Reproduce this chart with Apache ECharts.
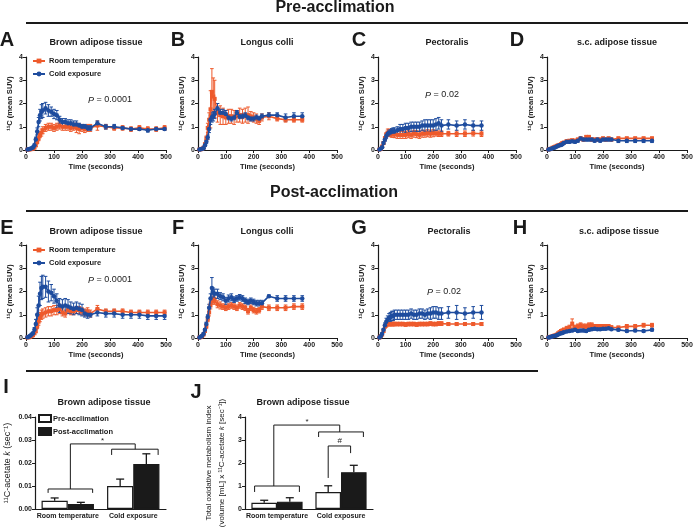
<!DOCTYPE html>
<html>
<head>
<meta charset="utf-8">
<script src="https://cdn.jsdelivr.net/npm/echarts@6/dist/echarts.min.js"></script>
<style>
  html, body { margin: 0; padding: 0; background: #fff; }
  #chart { width: 693px; height: 528px; }
</style>
</head>
<body>
<div id="chart"></div>
<script>
// frame mid-times (seconds)
const timeLong = [5,10,15,20,25,30,35,40,45,50,55,60,70,80,90,100,110,120,130,140,150,160,170,180,190,200,210,220,230,255,285,315,345,375,405,435,465,495];
const timeShort = [5,10,15,20,25,30,35,40,45,50,55,60,70,80,90,100,110,120,130,140,150,160,170,180,190,200,210,220,230,255,285,315,345,375];

// A - pre, brown adipose tissue
const aRT      = [0.02,0.02,0.03,0.04,0.06,0.1,0.2,0.35,0.5,0.65,0.75,0.85,0.95,1.0,1.0,0.95,1.0,1.05,1.0,1.0,1.0,0.95,1.0,0.95,0.9,0.95,0.9,0.95,0.95,1.05,1.0,0.95,0.95,0.9,0.95,0.9,0.9,0.95];
const aRTErr   = [0.01,0.01,0.01,0.02,0.02,0.03,0.05,0.08,0.1,0.12,0.15,0.15,0.15,0.15,0.15,0.15,0.15,0.15,0.15,0.15,0.15,0.15,0.15,0.2,0.2,0.15,0.15,0.15,0.15,0.2,0.1,0.1,0.1,0.1,0.1,0.1,0.1,0.1];
const aCold    = [0.02,0.03,0.05,0.08,0.12,0.2,0.45,0.8,1.2,1.5,1.65,1.7,1.8,1.7,1.65,1.55,1.5,1.3,1.2,1.2,1.15,1.15,1.1,1.1,1.05,1.0,1.0,0.95,0.95,1.15,1.0,1.0,0.95,0.9,0.9,0.85,0.9,0.9];
const aColdErr = [0.01,0.01,0.02,0.02,0.03,0.05,0.1,0.15,0.2,0.25,0.3,0.3,0.25,0.25,0.2,0.2,0.2,0.15,0.15,0.15,0.15,0.15,0.15,0.15,0.1,0.1,0.1,0.1,0.1,0.1,0.1,0.1,0.05,0.05,0.05,0.08,0.05,0.05];

// B - pre, longus colli
const bRT      = [0.02,0.03,0.05,0.1,0.25,0.5,0.95,1.3,1.75,2.5,2.3,2.2,1.6,1.5,1.45,1.4,1.45,1.45,1.4,1.45,1.5,1.45,1.5,1.5,1.45,1.4,1.35,1.25,1.4,1.45,1.35,1.3,1.3,1.3];
const bRTErr   = [0.01,0.01,0.02,0.03,0.05,0.1,0.2,0.3,0.8,1.0,0.8,0.8,0.4,0.4,0.35,0.3,0.3,0.3,0.3,0.25,0.3,0.3,0.3,0.35,0.2,0.2,0.2,0.15,0.15,0.15,0.1,0.1,0.1,0.1];
const bCold    = [0.02,0.03,0.05,0.08,0.2,0.35,0.55,0.9,1.3,1.4,1.45,1.55,1.8,1.6,1.6,1.55,1.4,1.35,1.4,1.6,1.45,1.45,1.5,1.4,1.35,1.35,1.4,1.35,1.45,1.5,1.5,1.4,1.45,1.45];
const bColdErr = [0.01,0.01,0.02,0.02,0.05,0.08,0.1,0.15,0.2,0.2,0.2,0.2,0.2,0.15,0.15,0.15,0.1,0.1,0.1,0.1,0.1,0.1,0.1,0.1,0.1,0.1,0.1,0.1,0.1,0.1,0.1,0.15,0.15,0.15];

// C - pre, pectoralis
const cRT      = [0.02,0.05,0.15,0.3,0.5,0.65,0.75,0.75,0.72,0.7,0.7,0.68,0.65,0.65,0.65,0.65,0.68,0.65,0.7,0.68,0.65,0.7,0.7,0.72,0.7,0.72,0.72,0.7,0.7,0.7,0.7,0.7,0.72,0.7];
const cRTErr   = [0.01,0.02,0.03,0.05,0.08,0.1,0.15,0.15,0.15,0.15,0.15,0.15,0.15,0.15,0.15,0.15,0.15,0.15,0.15,0.15,0.15,0.15,0.15,0.15,0.15,0.15,0.12,0.12,0.12,0.1,0.12,0.12,0.12,0.12];
const cCold    = [0.02,0.05,0.12,0.3,0.45,0.6,0.7,0.75,0.75,0.8,0.8,0.8,0.85,0.9,0.9,0.95,0.95,1.0,1.0,1.0,1.0,1.05,1.05,1.05,1.05,1.05,1.1,1.15,1.05,1.1,1.05,1.1,1.05,1.05];
const cColdErr = [0.01,0.02,0.03,0.05,0.08,0.1,0.1,0.1,0.12,0.12,0.15,0.15,0.15,0.2,0.2,0.2,0.2,0.2,0.2,0.2,0.2,0.2,0.25,0.25,0.25,0.25,0.25,0.25,0.25,0.2,0.2,0.2,0.2,0.2];

// D - pre, s.c. adipose tissue
const dRT      = [0.02,0.04,0.06,0.1,0.12,0.15,0.18,0.2,0.22,0.25,0.3,0.32,0.38,0.4,0.42,0.4,0.45,0.5,0.45,0.55,0.55,0.45,0.45,0.45,0.45,0.5,0.45,0.5,0.45,0.5,0.5,0.5,0.5,0.5];
const dRTErr   = [0.01,0.01,0.02,0.02,0.02,0.03,0.03,0.03,0.04,0.04,0.05,0.05,0.05,0.05,0.05,0.06,0.06,0.06,0.06,0.08,0.08,0.06,0.06,0.06,0.06,0.06,0.06,0.06,0.06,0.06,0.06,0.06,0.06,0.06];
const dCold    = [0.02,0.03,0.05,0.08,0.1,0.12,0.15,0.18,0.2,0.22,0.25,0.3,0.35,0.35,0.38,0.35,0.4,0.5,0.45,0.45,0.45,0.45,0.4,0.45,0.4,0.45,0.45,0.45,0.45,0.4,0.4,0.4,0.4,0.4];
const dColdErr = [0.01,0.01,0.02,0.02,0.02,0.03,0.03,0.03,0.04,0.04,0.05,0.05,0.06,0.06,0.06,0.06,0.06,0.06,0.06,0.06,0.06,0.06,0.06,0.06,0.06,0.06,0.06,0.06,0.06,0.08,0.08,0.08,0.08,0.08];

// E - post, brown adipose tissue
const eRT      = [0.02,0.03,0.05,0.08,0.12,0.2,0.3,0.5,0.7,0.9,1.0,1.05,1.1,1.15,1.15,1.2,1.2,1.25,1.1,1.05,1.2,1.15,1.15,1.2,1.2,1.15,1.1,1.15,1.05,1.25,1.15,1.15,1.15,1.1,1.1,1.1,1.1,1.1];
const eRTErr   = [0.01,0.01,0.02,0.02,0.03,0.05,0.08,0.1,0.15,0.2,0.2,0.2,0.2,0.2,0.2,0.2,0.2,0.2,0.15,0.15,0.15,0.15,0.15,0.15,0.15,0.15,0.15,0.15,0.15,0.15,0.1,0.1,0.1,0.1,0.1,0.1,0.1,0.1];
const eCold    = [0.03,0.05,0.1,0.15,0.2,0.35,0.6,1.0,1.4,1.9,2.15,2.2,2.2,2.0,1.95,1.8,1.6,1.4,1.35,1.4,1.35,1.3,1.25,1.3,1.25,1.2,1.05,1.0,1.0,1.1,1.05,1.05,1.0,1.0,1.0,0.95,0.95,0.95];
const eColdErr = [0.01,0.02,0.03,0.05,0.05,0.1,0.2,0.3,0.4,0.5,0.5,0.5,0.45,0.45,0.35,0.3,0.3,0.3,0.3,0.3,0.3,0.25,0.25,0.25,0.25,0.25,0.15,0.15,0.1,0.15,0.15,0.15,0.15,0.15,0.15,0.15,0.15,0.15];

// F - post, longus colli
const fRT      = [0.02,0.04,0.08,0.15,0.3,0.5,0.8,1.1,1.4,1.6,1.65,1.6,1.45,1.4,1.35,1.3,1.35,1.4,1.35,1.3,1.4,1.35,1.3,1.15,1.3,1.2,1.15,1.2,1.35,1.3,1.3,1.3,1.35,1.35];
const fRTErr   = [0.01,0.01,0.02,0.03,0.05,0.08,0.1,0.15,0.15,0.15,0.15,0.15,0.15,0.15,0.12,0.12,0.12,0.12,0.12,0.12,0.12,0.12,0.12,0.12,0.12,0.12,0.12,0.12,0.12,0.12,0.12,0.12,0.12,0.12];
const fCold    = [0.02,0.05,0.1,0.18,0.35,0.6,0.9,1.3,1.7,2.15,1.95,1.9,1.9,1.8,1.75,1.6,1.7,1.75,1.65,1.7,1.75,1.7,1.6,1.55,1.6,1.55,1.5,1.5,1.5,1.8,1.7,1.7,1.7,1.7];
const fColdErr = [0.01,0.01,0.02,0.03,0.05,0.08,0.1,0.15,0.2,0.45,0.2,0.2,0.2,0.15,0.15,0.15,0.15,0.15,0.12,0.12,0.12,0.12,0.12,0.12,0.12,0.12,0.12,0.12,0.12,0.05,0.12,0.12,0.12,0.12];

// G - post, pectoralis
const gRT      = [0.02,0.08,0.15,0.3,0.5,0.55,0.6,0.6,0.6,0.6,0.6,0.6,0.6,0.6,0.6,0.58,0.6,0.6,0.6,0.58,0.6,0.6,0.6,0.6,0.62,0.6,0.6,0.62,0.62,0.6,0.6,0.6,0.6,0.6];
const gRTErr   = [0.01,0.02,0.03,0.05,0.08,0.08,0.08,0.08,0.08,0.08,0.08,0.08,0.08,0.08,0.08,0.08,0.08,0.08,0.08,0.08,0.08,0.08,0.08,0.08,0.08,0.08,0.08,0.08,0.08,0.06,0.06,0.06,0.06,0.06];
const gCold    = [0.02,0.08,0.18,0.35,0.55,0.7,0.8,0.85,0.9,0.95,0.95,1.0,1.0,1.0,1.0,1.0,1.0,1.05,1.0,1.0,1.05,1.05,1.0,1.05,1.05,1.1,1.1,1.05,1.05,1.1,1.1,1.05,1.1,1.1];
const gColdErr = [0.01,0.02,0.03,0.05,0.1,0.15,0.15,0.2,0.2,0.2,0.2,0.2,0.2,0.2,0.2,0.2,0.2,0.2,0.2,0.2,0.2,0.2,0.2,0.2,0.25,0.25,0.25,0.25,0.25,0.25,0.3,0.25,0.25,0.3];

// H - post, s.c. adipose tissue
const hRT      = [0.02,0.04,0.06,0.08,0.1,0.12,0.15,0.2,0.25,0.3,0.32,0.35,0.4,0.45,0.62,0.45,0.5,0.55,0.5,0.5,0.55,0.55,0.5,0.5,0.5,0.5,0.5,0.5,0.45,0.45,0.5,0.5,0.55,0.55];
const hRTErr   = [0.01,0.01,0.02,0.02,0.03,0.03,0.04,0.05,0.05,0.06,0.06,0.08,0.1,0.1,0.2,0.1,0.1,0.1,0.1,0.1,0.1,0.1,0.08,0.08,0.08,0.08,0.08,0.08,0.08,0.06,0.08,0.08,0.08,0.08];
const hCold    = [0.02,0.03,0.05,0.07,0.09,0.1,0.12,0.15,0.18,0.2,0.22,0.25,0.28,0.3,0.32,0.35,0.3,0.32,0.32,0.3,0.35,0.38,0.4,0.38,0.38,0.4,0.4,0.42,0.38,0.35,0.3,0.32,0.3,0.35];
const hColdErr = [0.01,0.01,0.02,0.02,0.02,0.03,0.03,0.03,0.04,0.04,0.04,0.05,0.05,0.05,0.05,0.05,0.05,0.05,0.05,0.05,0.05,0.05,0.05,0.05,0.05,0.05,0.05,0.05,0.05,0.05,0.05,0.05,0.05,0.05];

// I and J bar panels
const barCats = ['Room temperature', 'Cold exposure'];
const iPre = [0.0036, 0.0100];
const iPreErr = [0.0012, 0.0030];
const iPost = [0.0022, 0.0196];
const iPostErr = [0.0007, 0.0044];
const jPre = [0.27, 0.74];
const jPreErr = [0.11, 0.27];
const jPost = [0.32, 1.6];
const jPostErr = [0.17, 0.3];

// significance brackets: points as [category offset, value]
const iBrackets = [
  [[-0.3, 0.0070], [-0.3, 0.0087], [0.38, 0.0087], [0.38, 0.0070]],
  [[0.67, 0.0235], [0.67, 0.0260], [1.38, 0.0260], [1.38, 0.0235]],
  [[0.04, 0.0087], [0.04, 0.0283], [1.03, 0.0283], [1.03, 0.0260]]
];
const iMarks = [['*', 0.53, 0.0283]];
const jBrackets = [
  [[-0.35, 0.74], [-0.35, 1.0], [0.35, 1.0], [0.35, 0.74]],
  [[0.65, 3.13], [0.65, 3.35], [1.35, 3.35], [1.35, 3.13]],
  [[-0.05, 1.0], [-0.05, 3.65], [0.98, 3.65], [0.98, 3.35]],
  [[0.8, 1.35], [0.8, 2.74], [1.15, 2.74], [1.15, 2.43]]
];
const jMarks = [['*', 0.47, 3.65], ['#', 0.98, 2.74]];

const ORANGE = '#EE5A2C';
const BLUE = '#1E4C9E';
const INK = '#1a1a1a';
const FONT = '"Liberation Sans", Arial, sans-serif';

const linePanels = [
  { t: timeLong,  rt: aRT, rtErr: aRTErr, cold: aCold, coldErr: aColdErr },
  { t: timeShort, rt: bRT, rtErr: bRTErr, cold: bCold, coldErr: bColdErr },
  { t: timeShort, rt: cRT, rtErr: cRTErr, cold: cCold, coldErr: cColdErr },
  { t: timeShort, rt: dRT, rtErr: dRTErr, cold: dCold, coldErr: dColdErr },
  { t: timeLong,  rt: eRT, rtErr: eRTErr, cold: eCold, coldErr: eColdErr },
  { t: timeShort, rt: fRT, rtErr: fRTErr, cold: fCold, coldErr: fColdErr },
  { t: timeShort, rt: gRT, rtErr: gRTErr, cold: gCold, coldErr: gColdErr },
  { t: timeShort, rt: hRT, rtErr: hRTErr, cold: hCold, coldErr: hColdErr }
];

const colLeft = [26, 198, 378, 547];
const colWidth = [140, 139, 138, 140];
const rowTop = [57, 245];

const grids = [], xAxes = [], yAxes = [], series = [];

function errRender(color) {
  return function (params, api) {
    const x = api.value(0), m = api.value(1), e = api.value(2);
    const top = api.coord([x, m + e]);
    const bot = api.coord([x, Math.max(0, m - e)]);
    const st = { stroke: color, lineWidth: 1 };
    return {
      type: 'group',
      children: [
        { type: 'line', shape: { x1: top[0], y1: top[1], x2: bot[0], y2: bot[1] }, style: st },
        { type: 'line', shape: { x1: top[0] - 1.8, y1: top[1], x2: top[0] + 1.8, y2: top[1] }, style: st },
        { type: 'line', shape: { x1: bot[0] - 1.8, y1: bot[1], x2: bot[0] + 1.8, y2: bot[1] }, style: st }
      ]
    };
  };
}

const axisLineStyle = { show: true, onZero: false, lineStyle: { color: INK, width: 1.2 } };
const tickStyle = { show: true, length: 3, lineStyle: { color: INK, width: 1 } };
const tickLabel = { fontSize: 7, fontWeight: 'bold', color: INK, fontFamily: FONT, showMinLabel: true, showMaxLabel: true };

linePanels.forEach(function (p, i) {
  const row = Math.floor(i / 4), col = i % 4;
  grids.push({ left: colLeft[col], top: rowTop[row], width: colWidth[col], height: 93, outerBoundsMode: 'none' });
  xAxes.push({
    type: 'value', gridIndex: i, min: 0, max: 500, interval: 100,
    axisLine: axisLineStyle, axisTick: tickStyle,
    axisLabel: Object.assign({ margin: 4 }, tickLabel),
    splitLine: { show: false },
    name: 'Time (seconds)', nameLocation: 'middle', nameGap: 13,
    nameTextStyle: { fontSize: 7.5, fontWeight: 'bold', color: INK, fontFamily: FONT }
  });
  yAxes.push({
    type: 'value', gridIndex: i, min: 0, max: 4, interval: 1,
    axisLine: axisLineStyle, axisTick: tickStyle,
    axisLabel: Object.assign({ margin: 3 }, tickLabel),
    splitLine: { show: false },
    name: '¹¹C (mean SUV)', nameLocation: 'middle', nameGap: 12, nameRotate: 90,
    nameTextStyle: { fontSize: 7.5, fontWeight: 'bold', color: INK, fontFamily: FONT }
  });
  const rtPts = p.t.map(function (t, k) { return [t, p.rt[k]]; });
  const coldPts = p.t.map(function (t, k) { return [t, p.cold[k]]; });
  series.push({
    type: 'custom', xAxisIndex: i, yAxisIndex: i, silent: true, z: 2,
    data: p.t.map(function (t, k) { return [t, p.rt[k], p.rtErr[k]]; }),
    renderItem: errRender(ORANGE)
  });
  series.push({
    type: 'custom', xAxisIndex: i, yAxisIndex: i, silent: true, z: 2,
    data: p.t.map(function (t, k) { return [t, p.cold[k], p.coldErr[k]]; }),
    renderItem: errRender(BLUE)
  });
  series.push({
    type: 'line', name: 'Room temperature', xAxisIndex: i, yAxisIndex: i, data: rtPts,
    symbol: 'rect', symbolSize: 4, z: 3,
    lineStyle: { color: ORANGE, width: 1.6 }, itemStyle: { color: ORANGE }
  });
  series.push({
    type: 'line', name: 'Cold exposure', xAxisIndex: i, yAxisIndex: i, data: coldPts,
    symbol: 'circle', symbolSize: 4.5, z: 4,
    lineStyle: { color: BLUE, width: 1.6 }, itemStyle: { color: BLUE }
  });
});

// bar panels I (8) and J (9)
const barPanels = [
  { left: 35, width: 131, pre: iPre, preErr: iPreErr, post: iPost, postErr: iPostErr, max: 0.04, interval: 0.01,
    fmt: function (v) { return v.toFixed(2); }, brackets: iBrackets, marks: iMarks,
    name: '¹¹C-acetate {i|k} (sec⁻¹)', nameGap: 21, nameSize: 9 },
  { left: 245, width: 128, pre: jPre, preErr: jPreErr, post: jPost, postErr: jPostErr, max: 4, interval: 1,
    fmt: function (v) { return String(v); }, brackets: jBrackets, marks: jMarks,
    name: 'Total oxidative metabolism index\n(volume [mL] x ¹¹C-acetate {i|k} [sec⁻¹])', nameGap: 17, nameSize: 8 }
];

function barErrRender(offset) {
  return function (params, api) {
    const c = api.coord([api.value(0), api.value(1)]);
    const top = api.coord([api.value(0), api.value(1) + api.value(2)]);
    const band = api.size([1, 0])[0];
    const x = c[0] + offset * band;
    const st = { stroke: INK, lineWidth: 1.3 };
    return {
      type: 'group',
      children: [
        { type: 'line', shape: { x1: x, y1: c[1], x2: x, y2: top[1] }, style: st },
        { type: 'line', shape: { x1: x - 4, y1: top[1], x2: x + 4, y2: top[1] }, style: st }
      ]
    };
  };
}

function bracketRender(brackets, marks) {
  return function (params, api) {
    const base = api.coord([0, 0])[0];
    const band = api.size([1, 0])[0];
    const px = function (pt) { return [base + pt[0] * band, api.coord([0, pt[1]])[1]]; };
    const children = brackets.map(function (b) {
      return { type: 'polyline', shape: { points: b.map(px) }, style: { stroke: INK, lineWidth: 1, fill: null } };
    });
    marks.forEach(function (m) {
      const p = px([m[1], m[2]]);
      const up = m[0] === '*' ? 3 : 5;
      children.push({ type: 'text', x: p[0], y: p[1] - up,
        style: { text: m[0], fontSize: 8, fontFamily: FONT, fill: INK, align: 'center', verticalAlign: 'middle', textAlign: 'center', textVerticalAlign: 'middle' } });
    });
    return { type: 'group', children: children };
  };
}

barPanels.forEach(function (b, j) {
  const gi = 8 + j;
  grids.push({ left: b.left, top: 417, width: b.width, height: 92, outerBoundsMode: 'none' });
  xAxes.push({
    type: 'category', gridIndex: gi, data: barCats,
    axisLine: { show: true, lineStyle: { color: INK, width: 1.2 } }, axisTick: { show: false },
    axisLabel: { fontSize: 7, fontWeight: 'bold', color: INK, fontFamily: FONT, margin: 4, interval: 0 }
  });
  yAxes.push({
    type: 'value', gridIndex: gi, min: 0, max: b.max, interval: b.interval,
    axisLine: axisLineStyle, axisTick: tickStyle,
    axisLabel: Object.assign({ margin: 3, formatter: b.fmt }, tickLabel),
    splitLine: { show: false },
    name: b.name, nameLocation: 'middle', nameGap: b.nameGap, nameRotate: 90,
    nameTextStyle: { fontSize: b.nameSize, color: INK, fontFamily: FONT, lineHeight: 13,
      rich: { i: { fontStyle: 'italic', fontSize: b.nameSize, color: INK, fontFamily: FONT } } }
  });
  series.push({
    type: 'bar', name: 'Pre-acclimation', xAxisIndex: gi, yAxisIndex: gi, data: b.pre,
    barGap: '0%', barCategoryGap: '20%',
    itemStyle: { color: '#ffffff', borderColor: INK, borderWidth: 1.2 }
  });
  series.push({
    type: 'bar', name: 'Post-acclimation', xAxisIndex: gi, yAxisIndex: gi, data: b.post,
    barGap: '0%', barCategoryGap: '20%',
    itemStyle: { color: INK, borderColor: INK, borderWidth: 1.2 }
  });
  series.push({
    type: 'custom', xAxisIndex: gi, yAxisIndex: gi, silent: true, z: 1,
    data: b.pre.map(function (v, k) { return [k, v, b.preErr[k]]; }), renderItem: barErrRender(-0.2)
  });
  series.push({
    type: 'custom', xAxisIndex: gi, yAxisIndex: gi, silent: true, z: 1,
    data: b.post.map(function (v, k) { return [k, v, b.postErr[k]]; }), renderItem: barErrRender(0.2)
  });
  series.push({
    type: 'custom', xAxisIndex: gi, yAxisIndex: gi, silent: true, clip: false, z: 5,
    data: [[0, 0]], renderItem: bracketRender(b.brackets, b.marks)
  });
});

function txt(x, y, s, size, weight, extra) {
  return {
    type: 'text', x: x, y: y, silent: true,
    style: Object.assign({
      text: s, fontSize: size, fontWeight: weight, fontFamily: FONT, fill: INK,
      align: 'center', verticalAlign: 'middle', textAlign: 'center', textVerticalAlign: 'middle'
    }, extra || {})
  };
}
function rule(x1, y, x2) {
  return { type: 'line', silent: true, shape: { x1: x1, y1: y, x2: x2, y2: y }, style: { stroke: INK, lineWidth: 2 } };
}
const pRich = { rich: { i: { fontStyle: 'italic', fontSize: 9, fontFamily: FONT, fill: INK } } };

const graphic = [
  txt(335, 8, 'Pre-acclimation', 16, 'bold'),
  rule(26, 23, 688),
  txt(334, 193, 'Post-acclimation', 16, 'bold'),
  rule(26, 211, 688),
  rule(26, 371, 538),
  txt(7, 40, 'A', 20, 'bold'), txt(178, 40, 'B', 20, 'bold'), txt(359, 40, 'C', 20, 'bold'), txt(517, 40, 'D', 20, 'bold'),
  txt(7, 228, 'E', 20, 'bold'), txt(178, 228, 'F', 20, 'bold'), txt(359, 228, 'G', 20, 'bold'), txt(520, 228, 'H', 20, 'bold'),
  txt(6, 387, 'I', 20, 'bold'), txt(196, 392, 'J', 20, 'bold'),
  txt(96, 43, 'Brown adipose tissue', 9, 'bold'),
  txt(267, 43, 'Longus colli', 9, 'bold'),
  txt(447, 43, 'Pectoralis', 9, 'bold'),
  txt(617, 43, 's.c. adipose tissue', 9, 'bold'),
  txt(96, 232, 'Brown adipose tissue', 9, 'bold'),
  txt(267, 232, 'Longus colli', 9, 'bold'),
  txt(449, 232, 'Pectoralis', 9, 'bold'),
  txt(619, 232, 's.c. adipose tissue', 9, 'bold'),
  txt(104, 403, 'Brown adipose tissue', 9, 'bold'),
  txt(303, 403, 'Brown adipose tissue', 9, 'bold'),
  txt(110, 100, '{i|P} = 0.0001', 9, 'normal', pRich),
  txt(442, 95, '{i|P} = 0.02', 9, 'normal', pRich),
  txt(110, 280, '{i|P} = 0.0001', 9, 'normal', pRich),
  txt(444, 292, '{i|P} = 0.02', 9, 'normal', pRich)
];

const lineLegend = {
  orient: 'vertical', data: ['Room temperature', 'Cold exposure'], selectedMode: false,
  padding: 0, itemWidth: 12, itemHeight: 6, itemGap: 5,
  textStyle: { fontSize: 7.5, fontWeight: 'bold', color: INK, fontFamily: FONT, padding: [0, 0, 0, -1] }
};

const option = {
  animation: false,
  textStyle: { fontFamily: FONT },
  grid: grids,
  xAxis: xAxes,
  yAxis: yAxes,
  legend: [
    Object.assign({ left: 32, top: 57 }, lineLegend),
    Object.assign({ left: 32, top: 246 }, lineLegend),
    {
      orient: 'vertical', left: 38, top: 414, padding: 0, data: ['Pre-acclimation', 'Post-acclimation'], selectedMode: false,
      icon: 'rect', itemWidth: 12, itemHeight: 7, itemGap: 4,
      textStyle: { fontSize: 7.5, fontWeight: 'bold', color: INK, fontFamily: FONT, padding: [0, 0, 0, -3] }
    }
  ],
  series: series,
  graphic: graphic
};

const chart = echarts.init(document.getElementById('chart'));
chart.setOption(option);
window.addEventListener('resize', function () { chart.resize(); });
</script>
</body>
</html>
